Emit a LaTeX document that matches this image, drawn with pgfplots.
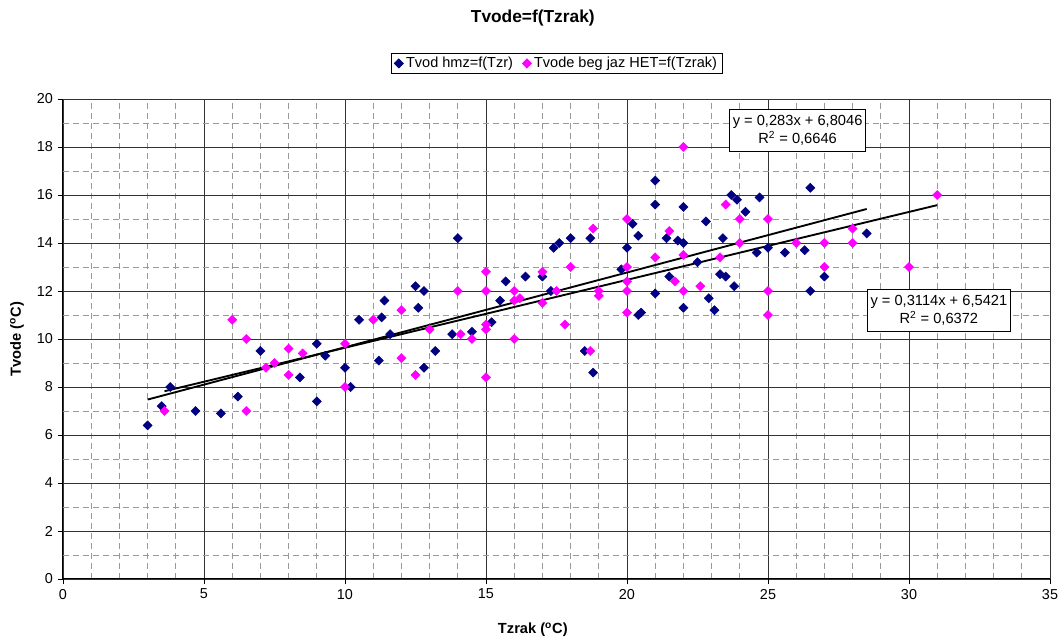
\documentclass[border=0pt]{standalone}
\usepackage{fontspec}
\setmainfont{Liberation Sans}
\usepackage{pgfplots}
\pgfplotsset{compat=1.18}

\definecolor{hmz}{RGB}{0,0,128}
\definecolor{het}{RGB}{255,0,255}

\begin{document}
\begin{tikzpicture}
\path[use as bounding box] (-47.25pt,-44.25pt) rectangle (748.5pt,434.25pt);
\begin{axis}[
    scale only axis,
    width=740.25pt, height=360pt,
    xmin=0, xmax=35, ymin=0, ymax=20,
    xtick={0,5,...,35}, ytick={0,2,...,20},
    minor x tick num=4, minor y tick num=1,
    axis x line*=bottom, axis y line*=left,
    axis line style={black, line width=0.75pt},
    grid=both,
    major grid style={black!80, line width=0.6pt},
    minor grid style={black!40, line width=0.6pt, dash pattern=on 4.5pt off 3pt},
    tick align=outside, major tick length=4pt, minor tick length=0pt,
    tick style={black, line width=0.6pt},
    /pgf/number format/assume math mode=true,
    ticklabel style={font=\fontsize{10.8}{13}\selectfont},
    every axis title shift=0pt,
    title={Tvode=f(Tzrak)},
    title style={at={(0.476,1.169)}, anchor=center, font=\bfseries\fontsize{13}{15}\selectfont},
    xlabel={Tzrak (\textsuperscript{o}C)},
    xlabel style={at={(0.476,-0.106)}, anchor=center, font=\bfseries\fontsize{11}{13}\selectfont},
    ylabel={Tvode (\textsuperscript{o}C)},
    ylabel style={at={(-0.0466,0.5)}, anchor=center, font=\bfseries\fontsize{11}{13}\selectfont},
    legend columns=2,
    legend style={at={(0.5005,1.074)}, anchor=center, draw=black, line width=0.6pt,
        font=\fontsize{10.9}{13}\selectfont, inner xsep=2pt, inner ysep=1pt,
        /tikz/every even column/.append style={column sep=5pt}},
    legend cell align=left,
]
% Tvod hmz
\addplot[only marks, mark=square*, mark size=2.4pt, color=hmz,
    mark options={rotate=45, draw=hmz, fill=hmz}] table {
x y
3.0 6.4
3.5 7.2
3.8 8.0
4.7 7.0
5.6 6.9
6.2 7.6
7.0 9.5
8.4 8.4
9.0 9.8
9.0 7.4
9.3 9.3
10.0 8.8
10.2 8.0
10.5 10.8
11.2 9.1
11.3 10.9
11.4 11.6
11.6 10.2
12.5 12.2
12.6 11.3
12.8 12.0
12.8 8.8
13.2 9.5
13.8 10.2
14.0 14.2
14.5 10.3
15.2 10.7
15.5 11.6
15.7 12.4
16.4 12.6
17.0 12.6
17.3 12.0
17.4 13.8
17.6 14.0
18.0 14.2
18.5 9.5
18.7 14.2
18.8 8.6
19.8 12.9
20.0 13.8
20.2 14.8
20.4 14.3
20.4 11.0
20.5 11.1
21.0 16.6
21.0 15.6
21.0 11.9
21.4 14.2
21.5 12.6
21.8 14.1
22.0 15.5
22.0 14.0
22.0 11.3
22.5 13.2
22.8 14.9
22.9 11.7
23.1 11.2
23.3 12.7
23.4 14.2
23.5 12.6
23.7 16.0
23.8 12.2
23.9 15.8
24.2 15.3
24.6 13.6
24.7 15.9
25.0 13.8
25.6 13.6
26.3 13.7
26.5 16.3
26.5 12.0
27.0 12.6
28.5 14.4
};
\addlegendentry{Tvod hmz=f(Tzr)}
% Tvode beg jaz HET
\addplot[only marks, mark=square*, mark size=2.4pt, color=het,
    mark options={rotate=45, draw=het, fill=het}] table {
x y
3.6 7.0
6.0 10.8
6.5 10.0
6.5 7.0
7.2 8.8
7.5 9.0
8.0 9.6
8.0 8.5
8.5 9.4
10.0 9.8
10.0 8.0
11.0 10.8
12.0 11.2
12.0 9.2
12.5 8.5
13.0 10.4
14.0 12.0
14.1 10.2
14.5 10.0
15.0 12.8
15.0 12.0
15.0 10.6
15.0 10.4
15.0 8.4
16.0 12.0
16.0 11.6
16.0 10.0
16.2 11.7
17.0 12.8
17.0 11.5
17.5 12.0
17.8 10.6
18.0 13.0
18.7 9.5
18.8 14.6
19.0 12.0
19.0 11.8
20.0 15.0
20.0 13.0
20.0 12.4
20.0 12.0
20.0 11.1
21.0 13.4
21.5 14.5
21.7 12.4
22.0 18.0
22.0 13.5
22.0 12.0
22.6 12.2
23.3 13.4
23.5 15.6
24.0 15.0
24.0 14.0
25.0 15.0
25.0 12.0
25.0 11.0
26.0 14.0
27.0 14.0
27.0 13.0
28.0 14.6
28.0 14.0
30.0 13.0
31.0 16.0
};
\addlegendentry{Tvode beg jaz HET=f(Tzrak)}
% linear trend lines (end points of the fits)
\addplot[black, line width=1.4pt, forget plot] coordinates {(3.0,7.4763) (28.5,15.4170)};
\addplot[black, line width=1.4pt, forget plot] coordinates {(3.6,7.8234) (31.0,15.5776)};
\node[draw=black, fill=white, line width=0.6pt, align=center, inner xsep=2.5pt, inner ysep=4.5pt,
    font=\fontsize{11}{13.5}\selectfont] at (axis cs:26.05,18.69)
    {y = 0,283x + 6,8046\\R\textsuperscript{2} = 0,6646};
\node[draw=black, fill=white, line width=0.6pt, align=center, inner xsep=2.5pt, inner ysep=4.5pt,
    font=\fontsize{11}{13.5}\selectfont] at (axis cs:31.06,11.19)
    {y = 0,3114x + 6,5421\\R\textsuperscript{2} = 0,6372};
\end{axis}
\end{tikzpicture}
\end{document}
